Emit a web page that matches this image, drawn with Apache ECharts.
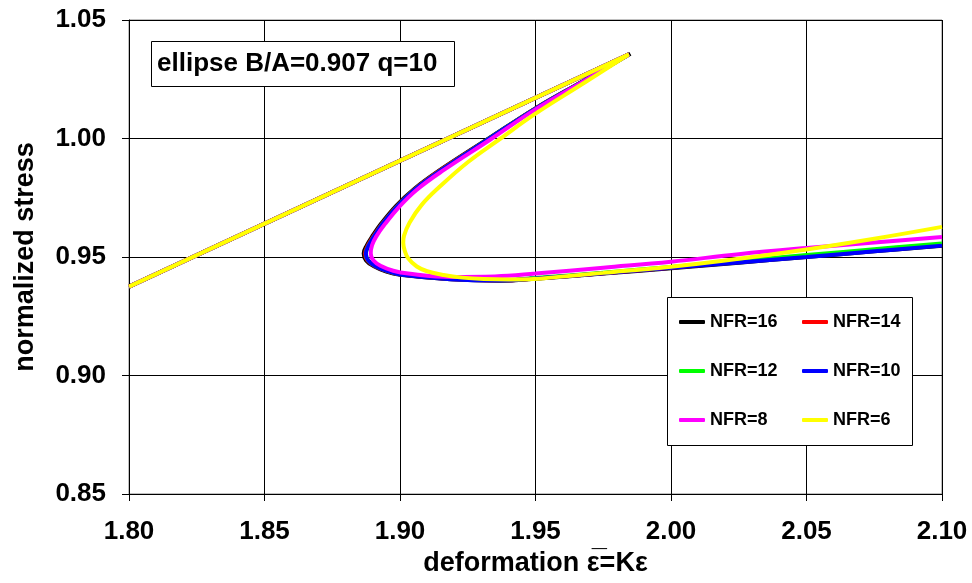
<!DOCTYPE html>
<html>
<head>
<meta charset="utf-8">
<script src="https://cdn.jsdelivr.net/npm/echarts@6/dist/echarts.min.js"></script>
<style>html,body{margin:0;padding:0;background:#fff}#chart{width:972px;height:583px}</style>
</head>
<body>
<div id="chart"></div>
<script>
// ---- data ----
const xTicks = [1.80, 1.85, 1.90, 1.95, 2.00, 2.05, 2.10];
const yTicks = [0.85, 0.90, 0.95, 1.00, 1.05];
const seriesNames = ['NFR=16', 'NFR=14', 'NFR=12', 'NFR=10', 'NFR=8', 'NFR=6'];
const seriesColors = ['#000000', '#ff0000', '#00ff00', '#0000ff', '#ff00ff', '#ffff00'];

// shared elastic (linear) branch
const elasticX = [1.80, 1.9845];
const elasticY = [0.9375, 1.0355];

// snap-back branches
const nfr16X = [1.9850, 1.968, 1.950, 1.9327, 1.9148, 1.9050, 1.8985, 1.8930, 1.8897, 1.8878, 1.8866, 1.8875, 1.8902, 1.8950, 1.9000, 1.9186, 1.9370, 1.9500, 1.975, 2.000, 2.025, 2.050, 2.075, 2.100];
const nfr16Y = [1.0358, 1.0245, 1.0127, 1.0000, 0.9867, 0.9785, 0.9715, 0.9640, 0.9586, 0.9550, 0.9515, 0.9485, 0.9462, 0.9438, 0.9425, 0.9406, 0.9400, 0.9408, 0.9430, 0.9453, 0.9476, 0.9500, 0.9524, 0.9547];
const nfr14X = [1.9845, 1.968, 1.950, 1.9330, 1.9150, 1.9053, 1.8989, 1.8934, 1.8901, 1.8882, 1.8871, 1.8880, 1.8907, 1.8955, 1.9005, 1.9186, 1.9370, 1.9500, 1.975, 2.000, 2.025, 2.050, 2.075, 2.100];
const nfr14Y = [1.0356, 1.0245, 1.0127, 1.0000, 0.9867, 0.9785, 0.9715, 0.9640, 0.9586, 0.9550, 0.9515, 0.9485, 0.9462, 0.9439, 0.9426, 0.9407, 0.9401, 0.9409, 0.9431, 0.9455, 0.9479, 0.9503, 0.9527, 0.9551];
const nfr12X = [1.9845, 1.968, 1.950, 1.9330, 1.9152, 1.9055, 1.8991, 1.8936, 1.8904, 1.8885, 1.8874, 1.8883, 1.8910, 1.8958, 1.9008, 1.9186, 1.9370, 1.9500, 1.975, 2.000, 2.025, 2.050, 2.075, 2.100];
const nfr12Y = [1.0355, 1.0244, 1.0126, 1.0000, 0.9866, 0.9785, 0.9715, 0.9640, 0.9586, 0.9550, 0.9515, 0.9485, 0.9462, 0.9440, 0.9427, 0.9408, 0.9402, 0.9411, 0.9434, 0.9458, 0.9483, 0.9508, 0.9533, 0.9557];
const nfr10X = [1.9845, 1.968, 1.950, 1.9330, 1.9152, 1.9055, 1.8991, 1.8936, 1.8904, 1.8885, 1.8874, 1.8883, 1.8910, 1.8958, 1.9008, 1.9186, 1.9370, 1.9500, 1.975, 2.000, 2.025, 2.050, 2.075, 2.100];
const nfr10Y = [1.0355, 1.0244, 1.0126, 1.0000, 0.9866, 0.9785, 0.9715, 0.9640, 0.9586, 0.9550, 0.9515, 0.9485, 0.9461, 0.9439, 0.9425, 0.9406, 0.9401, 0.9409, 0.9431, 0.9455, 0.9477, 0.9500, 0.9524, 0.9548];
const nfr8X = [1.9840, 1.968, 1.950, 1.9335, 1.9155, 1.9060, 1.8998, 1.8945, 1.8912, 1.8897, 1.8892, 1.8902, 1.8930, 1.8975, 1.9030, 1.9186, 1.9350, 1.9500, 1.975, 2.000, 2.025, 2.050, 2.075, 2.100];
const nfr8Y = [1.0352, 1.0243, 1.0123, 0.9997, 0.9862, 0.9782, 0.9713, 0.9640, 0.9586, 0.9550, 0.9516, 0.9485, 0.9462, 0.9442, 0.9430, 0.9416, 0.9418, 0.9430, 0.9455, 0.9480, 0.9512, 0.9538, 0.9561, 0.9584];
const nfr6X = [1.9840, 1.968, 1.950, 1.9371, 1.9250, 1.9145, 1.9080, 1.9035, 1.9015, 1.9012, 1.9018, 1.9030, 1.9062, 1.9100, 1.9161, 1.9230, 1.9309, 1.9400, 1.9494, 1.9555, 1.975, 2.000, 2.020, 2.050, 2.075, 2.100];
const nfr6Y = [1.0352, 1.0235, 1.0105, 1.0000, 0.9900, 0.9795, 0.9720, 0.9645, 0.9590, 0.9560, 0.9525, 0.9495, 0.9460, 0.9440, 0.9424, 0.9413, 0.9407, 0.9405, 0.9407, 0.9413, 0.9433, 0.9459, 0.9485, 0.9532, 0.9577, 0.9627];

const snapX = [nfr16X, nfr14X, nfr12X, nfr10X, nfr8X, nfr6X];
const snapY = [nfr16Y, nfr14Y, nfr12Y, nfr10Y, nfr8Y, nfr6Y];

const titleText = 'ellipse B/A=0.907 q=10';
const xName = 'deformation \u03B5\u0305=K\u03B5';
const yName = 'normalized stress';

// ---- chart ----
const FONT = '"Liberation Sans", Arial, sans-serif';
const zip = (xs, ys) => xs.map((x, i) => [x, ys[i]]);

const series = [];
seriesNames.forEach((name, i) => {
  series.push({
    name, type: 'line', data: zip(elasticX, elasticY), showSymbol: false, symbol: 'none',
    lineStyle: { color: seriesColors[i], width: 4 }, itemStyle: { color: seriesColors[i] },
    z: 2 + i * 0.1, animation: false, silent: true
  });
  series.push({
    name, type: 'line', data: zip(snapX[i], snapY[i]), showSymbol: false, symbol: 'none', smooth: 0.4,
    lineStyle: { color: seriesColors[i], width: 4 }, itemStyle: { color: seriesColors[i] },
    z: 2 + i * 0.1, animation: false, silent: true
  });
});

const legendPos = [
  [679, 313], [802, 313],
  [679, 362], [802, 362],
  [679, 411], [802, 411]
];
const legends = seriesNames.map((name, i) => ({
  data: [name], left: legendPos[i][0], top: legendPos[i][1], padding: 0,
  icon: 'roundRect', itemWidth: 26, itemHeight: 4, z: 6,
  textStyle: { fontFamily: FONT, fontWeight: 'bold', fontSize: 18, color: '#000', padding: [0, 0, 0, 0] },
  selectedMode: false
}));

const chart = echarts.init(document.getElementById('chart'), null, { renderer: 'canvas' });
chart.setOption({
  animation: false,
  backgroundColor: '#fff',
  grid: { left: 129, top: 20, right: 30, bottom: 89, show: true, borderColor: '#808080', borderWidth: 1 },
  xAxis: {
    type: 'value', min: 1.80, max: 2.10, interval: 0.05,
    name: xName, nameLocation: 'middle', nameGap: 56,
    nameTextStyle: { fontFamily: FONT, fontWeight: 'bold', fontSize: 27, color: '#000' },
    axisLine: { show: true, lineStyle: { color: '#000', width: 1 } },
    axisTick: { show: true, inside: false, length: 7, lineStyle: { color: '#000' } },
    axisLabel: { margin: 25, fontFamily: FONT, fontWeight: 'bold', fontSize: 26, color: '#000',
      formatter: v => v.toFixed(2) },
    splitLine: { show: true, lineStyle: { color: '#000', width: 1 } }
  },
  yAxis: {
    type: 'value', min: 0.85, max: 1.05, interval: 0.05,
    name: yName, nameLocation: 'middle', nameGap: 90,
    nameTextStyle: { fontFamily: FONT, fontWeight: 'bold', fontSize: 27, color: '#000' },
    axisLine: { show: true, lineStyle: { color: '#000', width: 1 } },
    axisTick: { show: true, inside: false, length: 7, lineStyle: { color: '#000' } },
    axisLabel: { margin: 23, fontFamily: FONT, fontWeight: 'bold', fontSize: 26, color: '#000',
      formatter: v => v.toFixed(2) },
    splitLine: { show: true, lineStyle: { color: '#000', width: 1 } }
  },
  legend: legends,
  graphic: [
    { type: 'rect', z: 5, shape: { x: 667.5, y: 297.5, width: 245, height: 148 },
      style: { fill: '#fff', stroke: '#000', lineWidth: 1 } },
    { type: 'rect', z: 5, shape: { x: 151.5, y: 41.5, width: 303, height: 45 },
      style: { fill: '#fff', stroke: '#000', lineWidth: 1 } },
    { type: 'text', z: 6, x: 157, y: 64,
      style: { text: titleText, fill: '#000', font: 'bold 26px ' + FONT, textVerticalAlign: 'middle', verticalAlign: 'middle' } }
  ],
  series
});
</script>
</body>
</html>
